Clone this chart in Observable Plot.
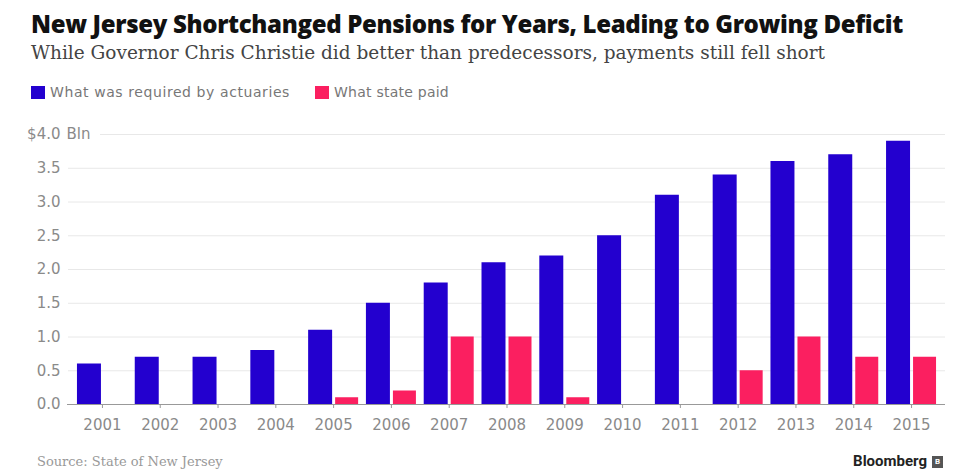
<!DOCTYPE html>
<html>
<head>
<meta charset="utf-8">
<script src="https://cdn.jsdelivr.net/npm/d3@7"></script>
<script src="https://cdn.jsdelivr.net/npm/@observablehq/plot@0.6"></script>
<style>
  html, body { margin: 0; padding: 0; background: #fff; }
  #wrap { position: relative; width: 961px; height: 470px; overflow: hidden; }
  .line { position: absolute; white-space: nowrap; line-height: 1; }
  #title { left: 31px; top: 12px; font-family: "Open Sans", Roboto, sans-serif; font-weight: 800; font-size: 24px; color: #111; }
  #subtitle { left: 31px; top: 44px; font-family: "DejaVu Serif", serif; font-size: 18.5px; color: #444; }
  #legend { left: 31px; top: 85px; font-family: "DejaVu Sans", sans-serif; font-size: 14px; color: #777; display: flex; align-items: center; }
  #legend .sw { display: inline-block; width: 14px; height: 13px; margin-right: 5px; }
  #legend .txt { display: inline-block; margin-right: 25px; }
  #chart { position: absolute; left: 0; top: 120px; }
  #source { left: 37px; top: 455px; font-family: "DejaVu Serif", serif; font-size: 13px; color: #999; }
  #brand { right: 18px; top: 454px; font-family: Roboto, "Liberation Sans", sans-serif; font-weight: 700; font-size: 15px; color: #222; display: flex; align-items: center; }
  #brand .logo { display: inline-block; width: 11px; height: 12px; background: #555; margin-left: 5px; color: #fff; font-size: 8px; line-height: 12px; text-align: center; }
</style>
</head>
<body>
<div id="wrap">
  <div id="title" class="line"></div>
  <div id="subtitle" class="line"></div>
  <div id="legend" class="line"></div>
  <div id="chart"></div>
  <div id="source" class="line"></div>
  <div id="brand" class="line">Bloomberg<span class="logo">B</span></div>
</div>
<script>
const titleText = "New Jersey Shortchanged Pensions for Years, Leading to Growing Deficit";
const subtitleText = "While Governor Chris Christie did better than predecessors, payments still fell short";
const sourceText = "Source: State of New Jersey";
const seriesNames = ["What was required by actuaries", "What state paid"];
const seriesColors = ["#2300cf", "#fb1f60"];
const years = ["2001","2002","2003","2004","2005","2006","2007","2008","2009","2010","2011","2012","2013","2014","2015"];
const required = [0.6, 0.7, 0.7, 0.8, 1.1, 1.5, 1.8, 2.1, 2.2, 2.5, 3.1, 3.4, 3.6, 3.7, 3.9];
const paid = [0, 0, 0, 0, 0.1, 0.2, 1.0, 1.0, 0.1, 0, 0, 0.5, 1.0, 0.7, 0.7];
const yTicks = [0, 0.5, 1.0, 1.5, 2.0, 2.5, 3.0, 3.5, 4.0];
const yUnit = "Bln";

// fit text to a target width by adjusting letter spacing (layout only)
function fit(el, target) {
  el.style.letterSpacing = "0px";
  const w = el.getBoundingClientRect().width;
  const n = el.textContent.length;
  el.style.letterSpacing = ((target - w) / n) + "px";
}

const titleEl = document.getElementById("title");
titleEl.textContent = titleText;
const subEl = document.getElementById("subtitle");
subEl.textContent = subtitleText;
document.getElementById("source").textContent = sourceText;
const legend = document.getElementById("legend");
const legendTargets = [240, 115];
seriesNames.forEach((n, i) => {
  const sw = document.createElement("span");
  sw.className = "sw";
  sw.style.background = seriesColors[i];
  legend.appendChild(sw);
  const t = document.createElement("span");
  t.className = "txt";
  t.textContent = n;
  legend.appendChild(t);
  fit(t, legendTargets[i]);
});
fit(titleEl, 872);
fit(subEl, 794);

const reqData = years.map((y, i) => ({year: y, value: required[i]}));
const paidData = years.map((y, i) => ({year: y, value: paid[i]})).filter(d => d.value > 0);
const topTick = yTicks[yTicks.length - 1];

const chart = Plot.plot({
  width: 961,
  height: 320,
  marginLeft: 68,
  marginRight: 16,
  marginTop: 14,
  marginBottom: 36,
  style: { fontFamily: "'DejaVu Sans', sans-serif", fontSize: "15px", color: "#888", background: "white" },
  x: { domain: years, paddingInner: 0.135, paddingOuter: 0.155, round: false, label: null },
  y: { domain: [0, 4], label: null },
  marks: [
    Plot.gridY(yTicks.filter(d => d !== topTick), { stroke: "#e8e8e8", strokeOpacity: 1 }),
    Plot.ruleY([topTick], { stroke: "#e8e8e8", insetLeft: 32 }),
    Plot.axisY(yTicks, { tickSize: 0, tickPadding: 8, fill: "#8a8a8a",
      tickFormat: d => d === topTick ? "$" + d.toFixed(1) : d.toFixed(1) }),
    Plot.text([topTick], { y: d => d, text: () => yUnit, frameAnchor: "left", textAnchor: "start", dx: -2, fill: "#8a8a8a" }),
    Plot.barY(reqData, { x: "year", y: "value", fill: seriesColors[0], insetRight: 26 }),
    Plot.barY(paidData, { x: "year", y: "value", fill: seriesColors[1], insetLeft: 27 }),
    Plot.ruleY([0], { stroke: "#999", strokeWidth: 1, insetLeft: -1 }),
    Plot.axisX({ tickSize: 4, stroke: "#999", tickPadding: 11, fill: "#8a8a8a" })
  ]
});
document.getElementById("chart").appendChild(chart);
</script>
</body>
</html>
